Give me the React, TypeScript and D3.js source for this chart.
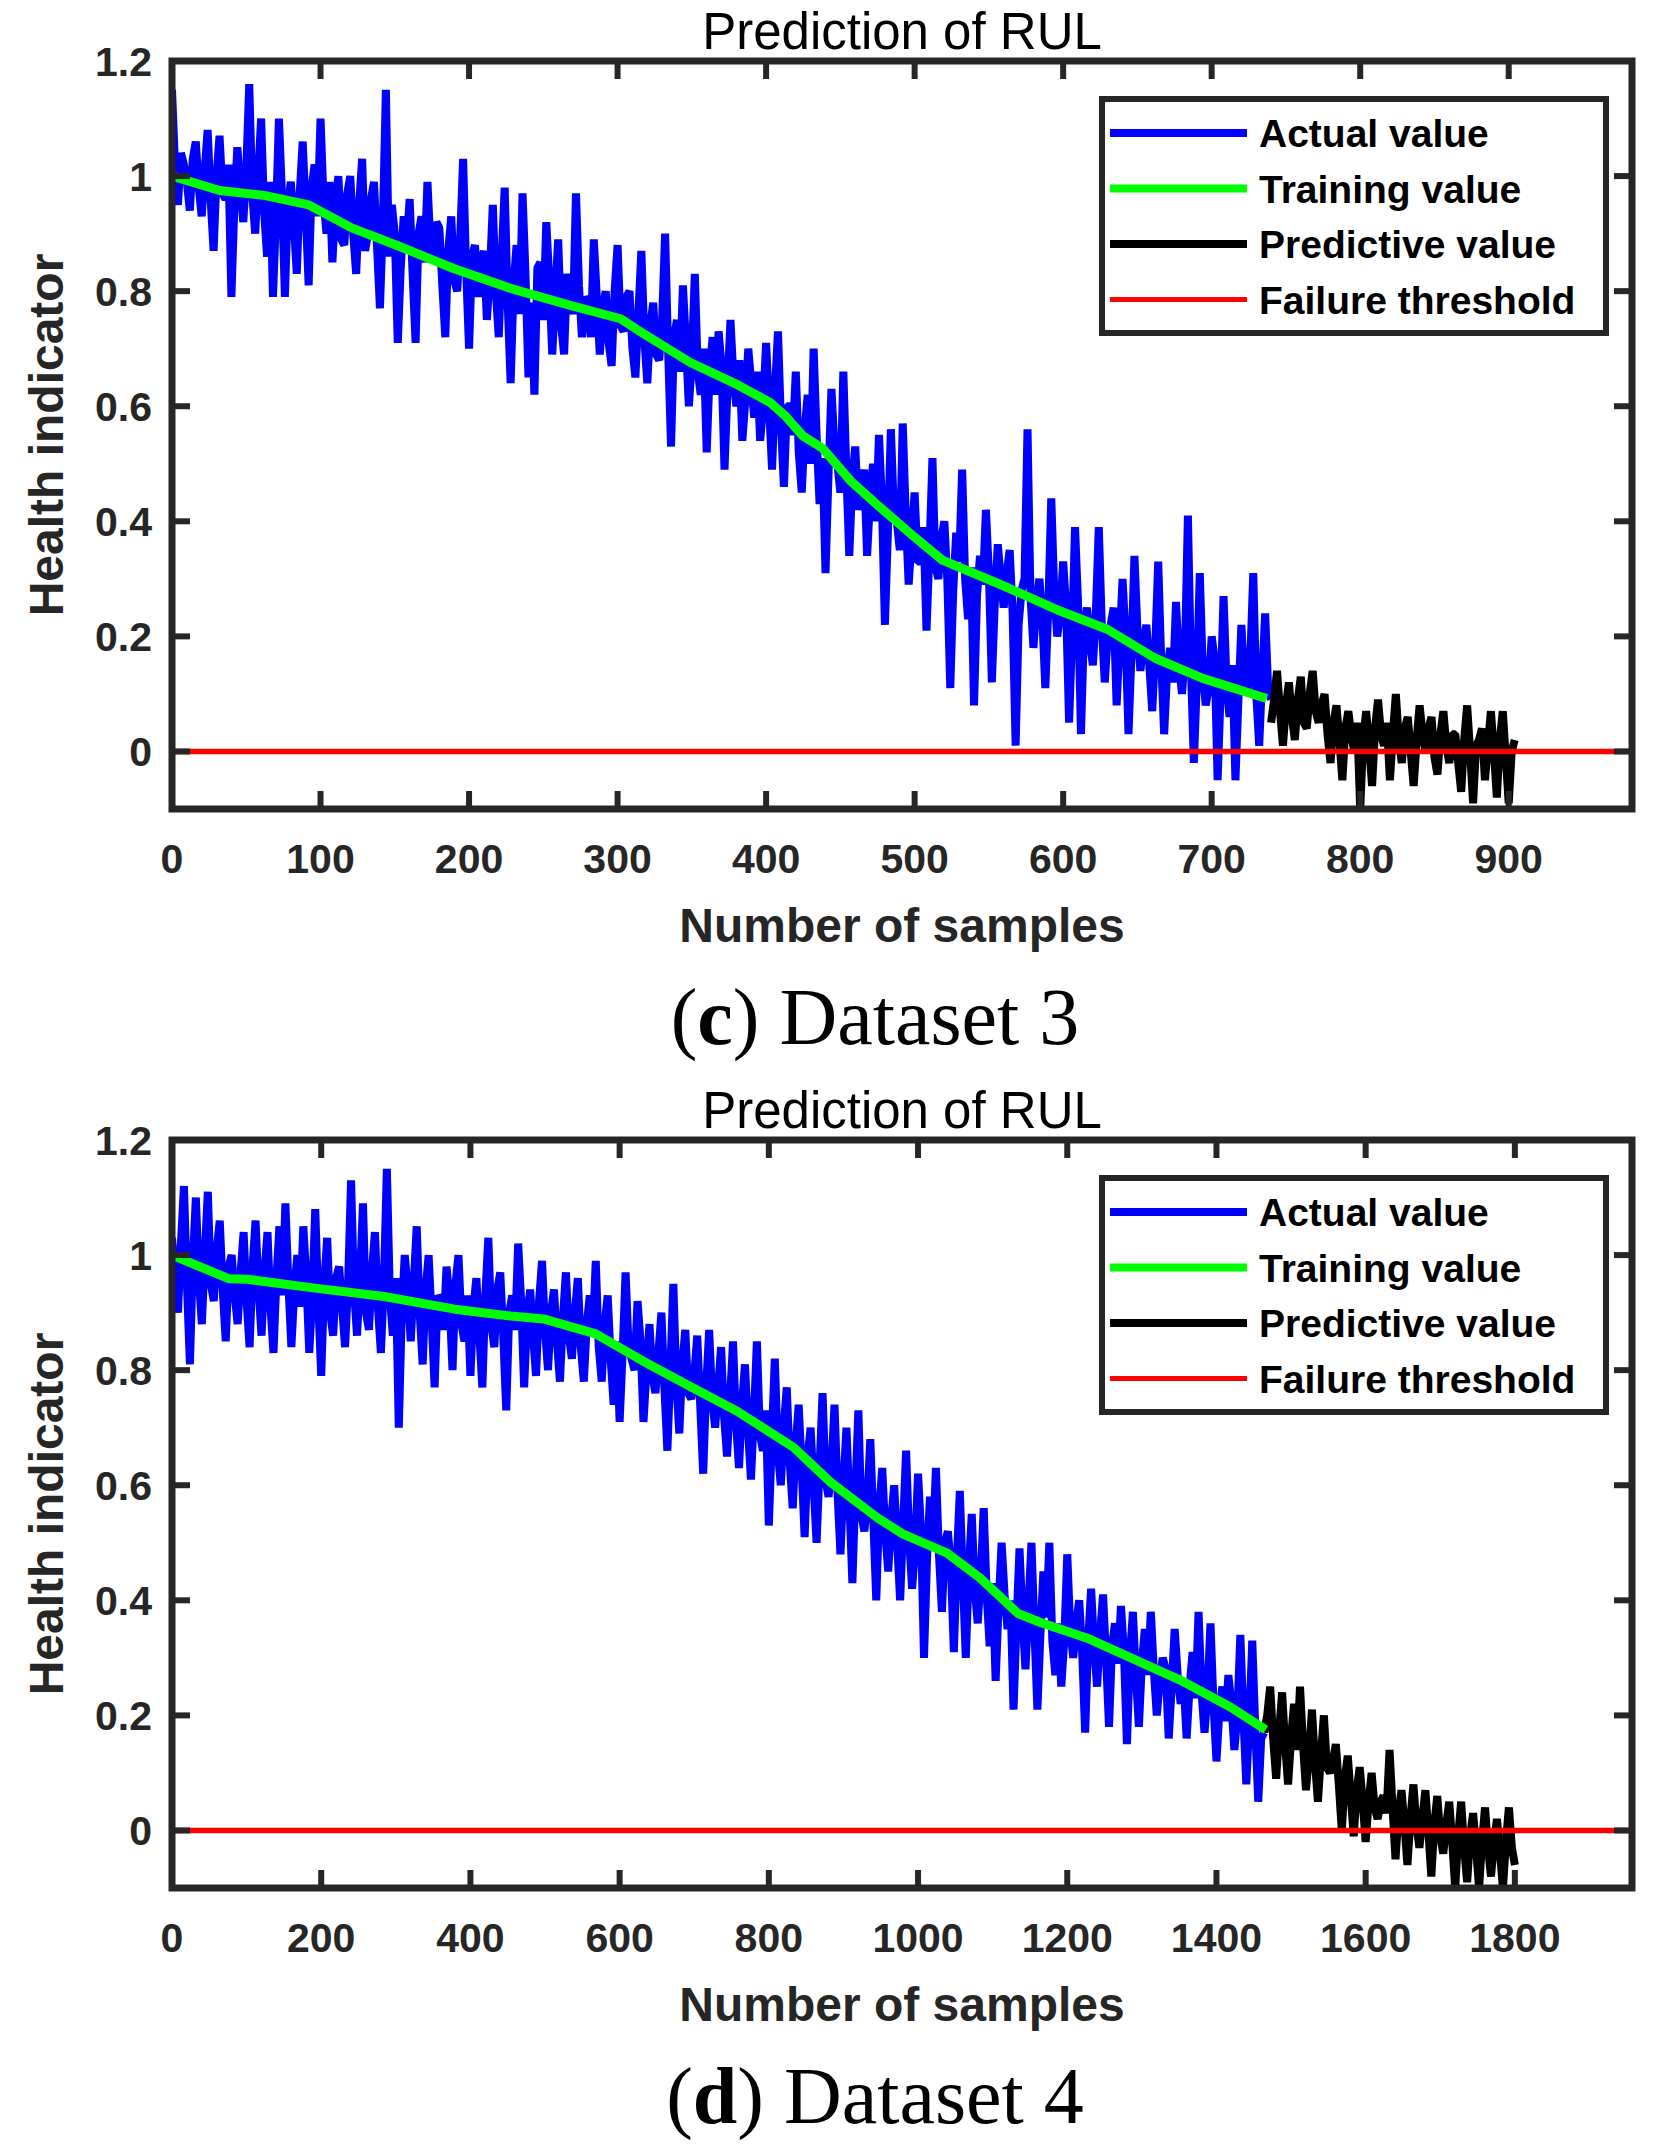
// RUL prediction panels (c) and (d)
import React from "react";
import * as d3 from "d3";

// ---------- Dataset 3 ----------
// actual health indicator, one value every 2 samples from 0
const actualStep3 = 2;
const actual3 = [
  1.15, 1.02, 0.95, 1.04, 1.02, 0.99, 0.94, 1.03, 1.06, 0.98, 0.93, 1.01, 1.08, 0.96, 0.87, 1.0, 1.07, 0.97, 0.96, 1.02,
  0.79, 0.95, 1.05, 0.98, 0.92, 1.01, 1.16, 0.97, 0.9, 1.0, 1.1, 0.94, 0.86, 0.99, 0.79, 0.93, 1.1, 0.97, 0.79, 0.95,
  0.99, 0.92, 0.83, 0.97, 1.06, 0.94, 0.81, 0.98, 1.02, 0.93, 1.1, 0.96, 0.9, 0.99, 0.85, 0.95, 1.0, 0.89, 0.88, 0.97,
  1.0, 0.9, 0.83, 0.95, 1.03, 0.87, 0.9, 0.96, 0.99, 0.88, 0.77, 0.92, 1.15, 0.86, 0.95, 0.9, 0.71, 0.84, 0.93, 0.88,
  0.96, 0.83, 0.71, 0.9, 0.93, 0.85, 0.99, 0.88, 0.85, 0.92, 0.91, 0.81, 0.72, 0.87, 0.93, 0.82, 0.8, 0.89, 1.03, 0.84,
  0.7, 0.86, 0.88, 0.79, 0.85, 0.87, 0.75, 0.83, 0.95, 0.8, 0.72, 0.86, 0.98, 0.78, 0.64, 0.81, 0.88, 0.76, 0.97, 0.83,
  0.65, 0.78, 0.62, 0.84, 0.85, 0.75, 0.92, 0.82, 0.69, 0.79, 0.89, 0.74, 0.69, 0.83, 0.8, 0.76, 0.97, 0.81, 0.72, 0.79,
  0.78, 0.72, 0.89, 0.79, 0.69, 0.77, 0.8, 0.71, 0.67, 0.8, 0.88, 0.74, 0.73, 0.79, 0.8, 0.7, 0.65, 0.76, 0.87, 0.72,
  0.64, 0.74, 0.78, 0.69, 0.68, 0.75, 0.9, 0.7, 0.53, 0.72, 0.75, 0.66, 0.81, 0.71, 0.6, 0.68, 0.83, 0.66, 0.62, 0.7,
  0.52, 0.66, 0.72, 0.62, 0.73, 0.67, 0.49, 0.63, 0.75, 0.65, 0.6, 0.68, 0.54, 0.61, 0.7, 0.64, 0.58, 0.66, 0.54, 0.6,
  0.71, 0.6, 0.49, 0.63, 0.73, 0.57, 0.46, 0.6, 0.6, 0.55, 0.66, 0.52, 0.45, 0.56, 0.62, 0.5, 0.7, 0.55, 0.43, 0.51,
  0.31, 0.48, 0.63, 0.53, 0.5, 0.45, 0.66, 0.49, 0.34, 0.47, 0.53, 0.42, 0.45, 0.49, 0.34, 0.44, 0.5, 0.4, 0.55, 0.43,
  0.22, 0.38, 0.56, 0.42, 0.4, 0.35, 0.57, 0.41, 0.29, 0.37, 0.45, 0.33, 0.33, 0.39, 0.21, 0.35, 0.51, 0.32, 0.3, 0.37,
  0.4, 0.3, 0.11, 0.28, 0.38, 0.33, 0.49, 0.3, 0.23, 0.32, 0.08, 0.27, 0.34, 0.29, 0.42, 0.31, 0.12, 0.26, 0.36, 0.3,
  0.25, 0.31, 0.35, 0.24, 0.01, 0.22, 0.28, 0.3, 0.56, 0.27, 0.18, 0.26, 0.3, 0.23, 0.11, 0.25, 0.44, 0.28, 0.2, 0.24,
  0.33, 0.25, 0.05, 0.2, 0.39, 0.26, 0.03, 0.21, 0.25, 0.19, 0.15, 0.24, 0.39, 0.22, 0.12, 0.2, 0.22, 0.25, 0.08, 0.19,
  0.3, 0.2, 0.03, 0.17, 0.34, 0.21, 0.14, 0.19, 0.22, 0.15, 0.07, 0.18, 0.33, 0.16, 0.03, 0.14, 0.18, 0.12, 0.26, 0.15,
  0.1, 0.17, 0.41, 0.15, -0.02, 0.12, 0.31, 0.14, 0.08, 0.11, 0.2, 0.16, -0.05, 0.1, 0.27, 0.12, 0.06, 0.15, -0.05, 0.09,
  0.22, 0.12, 0.1, 0.16, 0.31, 0.1, 0.01, 0.13, 0.24, 0.11, 0.09,
];
// predicted values, every 2 samples from 740
const predStart3 = 740;
const predStep3 = 2;
const predicted3 = [
  0.05, 0.09, 0.14, 0.07, 0.01, 0.08, 0.12, 0.06, 0.02, 0.09, 0.13, 0.05, 0.04, 0.1, 0.14, 0.07, 0.05, 0.08, 0.1, 0.03,
  -0.02, 0.05, 0.08, 0.02, -0.05, 0.04, 0.07, 0.03, 0.0, 0.05, -0.1, 0.02, 0.07, 0.01, -0.06, 0.04, 0.09, 0.03, 0.01, 0.05,
  -0.05, 0.03, 0.1, 0.02, -0.02, 0.04, 0.06, 0.0, -0.06, 0.02, 0.08, 0.03, 0.0, 0.04, 0.06, -0.01, -0.04, 0.03, 0.07, 0.01,
  -0.02, 0.03, 0.03, -0.02, -0.07, 0.02, 0.08, 0.0, -0.09, 0.01, 0.02, 0.04, -0.05, 0.01, 0.07, 0.0, -0.08, 0.02, 0.07, -0.01,
  -0.09, 0.0, 0.02,
];
// training fit
const trainX3 = [0, 32, 63, 92, 121, 152, 190, 229, 270, 302, 317, 349, 381, 403, 413, 425, 438, 457, 476, 498, 519, 557, 598, 630, 662, 694, 737];
const trainY3 = [1.0, 0.975, 0.966, 0.95, 0.91, 0.879, 0.839, 0.804, 0.774, 0.752, 0.727, 0.676, 0.637, 0.606, 0.583, 0.548, 0.527, 0.47, 0.426, 0.377, 0.332, 0.291, 0.244, 0.212, 0.162, 0.127, 0.092];
const xTicks3 = [0, 100, 200, 300, 400, 500, 600, 700, 800, 900];

// ---------- Dataset 4 ----------
// actual health indicator, one value every 4 samples from 0
const actualStep4 = 4;
const actual4 = [
  1.03, 0.97, 0.9, 1.02, 1.12, 0.95, 0.81, 0.99, 1.1, 0.96, 0.88, 1.0, 1.11, 0.95, 0.92, 1.01, 1.06, 0.94, 0.85, 0.98,
  1.0, 0.93, 0.88, 0.97, 1.04, 0.92, 0.84, 0.98, 1.06, 0.94, 0.86, 0.97, 1.04, 0.91, 0.83, 0.96, 1.05, 0.93, 1.09, 0.95,
  0.84, 0.94, 1.0, 0.91, 1.05, 0.96, 0.83, 0.93, 1.08, 0.92, 0.79, 0.95, 1.03, 0.9, 0.86, 0.96, 0.98, 0.91, 0.84, 0.95,
  1.13, 0.94, 0.86, 0.96, 1.09, 0.9, 0.87, 0.97, 1.04, 0.91, 0.83, 0.95, 1.15, 0.93, 0.86, 0.96, 0.7, 0.9, 1.0, 0.94,
  0.85, 0.95, 1.05, 0.9, 0.81, 0.94, 1.0, 0.89, 0.77, 0.93, 0.92, 0.87, 0.98, 0.92, 0.8, 0.95, 1.0, 0.88, 0.85, 0.93,
  0.79, 0.91, 0.96, 0.86, 0.77, 0.93, 1.03, 0.88, 0.84, 0.94, 0.97, 0.86, 0.73, 0.9, 0.93, 0.87, 1.02, 0.92, 0.77, 0.89,
  0.94, 0.86, 0.79, 0.92, 0.99, 0.87, 0.8, 0.9, 0.94, 0.85, 0.78, 0.89, 0.97, 0.86, 0.82, 0.9, 0.96, 0.84, 0.78, 0.88,
  0.93, 0.86, 0.99, 0.84, 0.78, 0.88, 0.93, 0.82, 0.74, 0.85, 0.71, 0.83, 0.97, 0.84, 0.82, 0.8, 0.92, 0.85, 0.71, 0.8,
  0.88, 0.79, 0.76, 0.83, 0.9, 0.77, 0.66, 0.8, 0.95, 0.78, 0.69, 0.81, 0.87, 0.76, 0.75, 0.79, 0.86, 0.74, 0.62, 0.77,
  0.87, 0.75, 0.7, 0.77, 0.84, 0.72, 0.65, 0.75, 0.85, 0.71, 0.63, 0.74, 0.81, 0.7, 0.61, 0.72, 0.85, 0.69, 0.66, 0.73,
  0.53, 0.68, 0.82, 0.66, 0.6, 0.7, 0.77, 0.64, 0.56, 0.67, 0.74, 0.63, 0.51, 0.65, 0.7, 0.6, 0.5, 0.63, 0.76, 0.61,
  0.58, 0.63, 0.74, 0.59, 0.48, 0.6, 0.7, 0.57, 0.43, 0.59, 0.73, 0.55, 0.52, 0.57, 0.68, 0.54, 0.4, 0.56, 0.63, 0.52,
  0.45, 0.54, 0.6, 0.5, 0.4, 0.53, 0.66, 0.51, 0.42, 0.49, 0.62, 0.52, 0.3, 0.47, 0.58, 0.5, 0.63, 0.48, 0.38, 0.5,
  0.52, 0.46, 0.31, 0.47, 0.59, 0.44, 0.3, 0.45, 0.55, 0.42, 0.36, 0.44, 0.56, 0.41, 0.32, 0.43, 0.26, 0.39, 0.5, 0.41,
  0.35, 0.4, 0.21, 0.36, 0.49, 0.37, 0.28, 0.39, 0.5, 0.35, 0.21, 0.34, 0.45, 0.37, 0.5, 0.33, 0.27, 0.36, 0.25, 0.33,
  0.48, 0.35, 0.3, 0.36, 0.4, 0.31, 0.17, 0.33, 0.42, 0.32, 0.25, 0.34, 0.41, 0.3, 0.18, 0.32, 0.36, 0.29, 0.39, 0.31,
  0.15, 0.3, 0.38, 0.27, 0.18, 0.29, 0.35, 0.27, 0.38, 0.28, 0.2, 0.26, 0.3, 0.28, 0.16, 0.25, 0.35, 0.27, 0.22, 0.26,
  0.16, 0.25, 0.31, 0.23, 0.38, 0.24, 0.17, 0.24, 0.36, 0.22, 0.12, 0.21, 0.25, 0.19, 0.27, 0.22, 0.14, 0.2, 0.34, 0.2,
  0.08, 0.19, 0.33, 0.18, 0.05, 0.16, 0.17,
];
// predicted values, every 4 samples from 1464
const predStart4 = 1464;
const predStep4 = 4;
const predicted4 = [
  0.17, 0.2, 0.25, 0.16, 0.09, 0.17, 0.24, 0.15, 0.08, 0.16, 0.22, 0.14, 0.25, 0.15, 0.07, 0.13, 0.21, 0.12, 0.05, 0.13,
  0.2, 0.11, 0.1, 0.12, 0.15, 0.08, 0.0, 0.09, 0.13, 0.06, -0.01, 0.07, 0.11, 0.05, -0.02, 0.05, 0.1, 0.04, 0.02, 0.05,
  0.06, 0.03, 0.14, 0.04, -0.05, 0.03, 0.07, 0.01, -0.06, 0.02, 0.08, 0.01, -0.03, 0.02, 0.07, 0.0, -0.08, 0.01, 0.06, -0.01,
  -0.04, 0.01, 0.05, -0.02, -0.1, -0.01, 0.05, -0.03, -0.09, -0.01, 0.03, -0.03, -0.1, -0.02, 0.04, -0.03, -0.08, -0.02, 0.02, -0.04,
  -0.1, -0.02, 0.04, -0.03, -0.06,
];
const trainX4 = [0, 76, 101, 189, 284, 379, 454, 498, 568, 631, 694, 757, 833, 883, 946, 980, 1039, 1083, 1134, 1165, 1229, 1292, 1355, 1418, 1466];
const trainY4 = [1.0, 0.959, 0.958, 0.943, 0.928, 0.906, 0.894, 0.889, 0.863, 0.816, 0.772, 0.729, 0.666, 0.605, 0.543, 0.515, 0.482, 0.439, 0.377, 0.361, 0.333, 0.296, 0.259, 0.215, 0.175];
const xTicks4 = [0, 200, 400, 600, 800, 1000, 1200, 1400, 1600, 1800];

const yTicks = [0, 0.2, 0.4, 0.6, 0.8, 1, 1.2];
const legendItems = ["Actual value", "Training value", "Predictive value", "Failure threshold"];
const legendColors = ["#0000ff", "#00ff00", "#000000", "#ff0000"];

const axisColor = "#262626";
const sans = "'Liberation Sans', Arial, Helvetica, sans-serif";

interface PanelProps {
  id: string;
  top: number;
  xMax: number;
  xTicks: number[];
  actual: number[];
  actualStep: number;
  predicted: number[];
  predStart: number;
  predStep: number;
  trainX: number[];
  trainY: number[];
  letter: string;
  dataset: string;
}

const Panel: React.FC<PanelProps> = (p) => {
  const left = 172;
  const right = 1632;
  const plotH = 748;
  const x = d3.scaleLinear().domain([0, p.xMax]).range([left, right]);
  const y = d3.scaleLinear().domain([-0.1, 1.2]).range([p.top + plotH, p.top]);
  const bottom = p.top + plotH;
  const cx = (left + right) / 2;

  const actualLine = d3
    .line<number>()
    .x((_, i) => x(i * p.actualStep))
    .y((d) => y(d));
  const predLine = d3
    .line<number>()
    .x((_, i) => x(p.predStart + i * p.predStep))
    .y((d) => y(d));
  const trainLine = d3
    .line<number>()
    .x((_, i) => x(p.trainX[i]))
    .y((d) => y(d));

  const tickLen = 18;
  const legX = 1102;
  const legY = p.top + 38;

  return (
    <g>
      <defs>
        <clipPath id={`clip-${p.id}`}>
          <rect x={left} y={p.top} width={right - left} height={plotH} />
        </clipPath>
      </defs>

      {/* Title */}
      <text x={cx} y={p.top - 12} textAnchor="middle" fontFamily={sans} fontSize={51} fill="#000">
        Prediction of RUL
      </text>

      {/* Data */}
      <g clipPath={`url(#clip-${p.id})`}>
        <path d={actualLine(p.actual) || ""} fill="none" stroke="#0000ff" strokeWidth={8} strokeLinejoin="bevel" />
        <path d={predLine(p.predicted) || ""} fill="none" stroke="#000000" strokeWidth={8} strokeLinejoin="bevel" />
        <path d={trainLine(p.trainY) || ""} fill="none" stroke="#00ff00" strokeWidth={9} strokeLinejoin="round" />
        <line x1={x(0)} x2={x(p.xMax)} y1={y(0)} y2={y(0)} stroke="#ff0000" strokeWidth={5.5} />
      </g>

      {/* Ticks */}
      {p.xTicks.map((t) => (
        <g key={`x${t}`}>
          <line x1={x(t)} x2={x(t)} y1={bottom} y2={bottom - tickLen} stroke={axisColor} strokeWidth={6} />
          <line x1={x(t)} x2={x(t)} y1={p.top} y2={p.top + tickLen} stroke={axisColor} strokeWidth={6} />
          <text x={x(t)} y={bottom + 64} textAnchor="middle" fontFamily={sans} fontWeight="bold" fontSize={41} fill={axisColor}>
            {t}
          </text>
        </g>
      ))}
      {yTicks.map((t) => (
        <g key={`y${t}`}>
          <line x1={left} x2={left + tickLen} y1={y(t)} y2={y(t)} stroke={axisColor} strokeWidth={6} />
          <line x1={right} x2={right - tickLen} y1={y(t)} y2={y(t)} stroke={axisColor} strokeWidth={6} />
          <text x={152} y={y(t) + 15} textAnchor="end" fontFamily={sans} fontWeight="bold" fontSize={41} fill={axisColor}>
            {String(+t.toFixed(1))}
          </text>
        </g>
      ))}

      {/* Axes box */}
      <rect x={left} y={p.top} width={right - left} height={plotH} fill="none" stroke={axisColor} strokeWidth={7} />

      {/* Axis labels */}
      <text x={cx} y={bottom + 133} textAnchor="middle" fontFamily={sans} fontWeight="bold" fontSize={48} fill={axisColor}>
        Number of samples
      </text>
      <text
        transform={`translate(63, ${(p.top + bottom) / 2}) rotate(-90)`}
        textAnchor="middle"
        fontFamily={sans}
        fontWeight="bold"
        fontSize={48}
        fill={axisColor}
      >
        Health indicator
      </text>

      {/* Legend */}
      <rect x={legX} y={legY} width={504} height={234} fill="#fff" stroke={axisColor} strokeWidth={6} />
      {legendItems.map((name, i) => {
        const ly = legY + 34 + i * 55.5;
        return (
          <g key={name}>
            <line x1={1110} x2={1247} y1={ly} y2={ly} stroke={legendColors[i]} strokeWidth={i === 3 ? 5 : 8} />
            <text x={1259} y={ly + 14} fontFamily={sans} fontWeight="bold" fontSize={39} fill="#000">
              {name}
            </text>
          </g>
        );
      })}

      {/* Caption */}
      <text x={875} y={p.top + 983} textAnchor="middle" fontFamily="'Liberation Serif', 'Times New Roman', serif" fontSize={80} fill="#000">
        (<tspan fontWeight="bold">{p.letter}</tspan>) {p.dataset}
      </text>
    </g>
  );
};

export default function App() {
  return (
    <svg
      width={1667}
      height={2150}
      viewBox="0 0 1667 2150"
      style={{ position: "absolute", left: 0, top: 0, background: "#fff" }}
    >
      <rect width={1667} height={2150} fill="#fff" />
      <Panel
        id="c"
        top={61}
        xMax={983}
        xTicks={xTicks3}
        actual={actual3}
        actualStep={actualStep3}
        predicted={predicted3}
        predStart={predStart3}
        predStep={predStep3}
        trainX={trainX3}
        trainY={trainY3}
        letter="c"
        dataset="Dataset 3"
      />
      <Panel
        id="d"
        top={1140}
        xMax={1957}
        xTicks={xTicks4}
        actual={actual4}
        actualStep={actualStep4}
        predicted={predicted4}
        predStart={predStart4}
        predStep={predStep4}
        trainX={trainX4}
        trainY={trainY4}
        letter="d"
        dataset="Dataset 4"
      />
    </svg>
  );
}
